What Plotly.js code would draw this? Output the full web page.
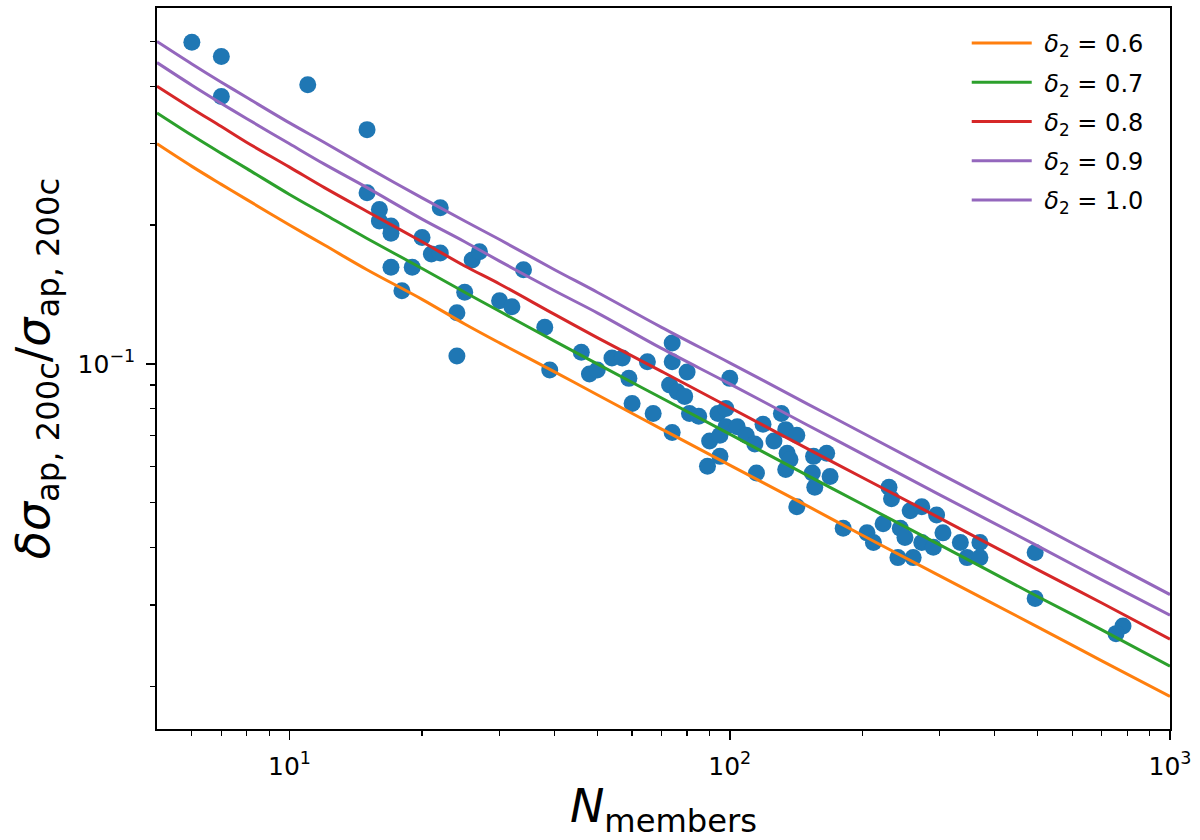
<!DOCTYPE html>
<html>
<head>
<meta charset="utf-8">
<script src="https://cdn.plot.ly/plotly-3.0.1.min.js"></script>
<style>html,body{margin:0;padding:0;background:#fff;}#chart{width:1200px;height:840px;}</style>
</head>
<body>
<div id="chart"></div>
<script>
// Cluster data: number of members and fractional error of aperture velocity dispersion
var nMembers = [6,7,7,11,15,15,16,16,17,17,20,21,22,22,17,19,18,25,24,24,26,27,34,30,32,38,39,46,48,50,
  54,57,59,65,74,74,73,76,60,67,74,80,79,100,81,85,94,98,90,95,98,104,109,114,89,95,115,119,126,131,
  134,142,135,137,134,155,166,154,169,156,142,181,230,233,257,273,295,223,244,250,305,205,212,273,290,241,261,334,370,346,
  370,494,494,782,754];
var fracErr = [0.498,0.464,0.380,0.403,0.322,0.235,0.216,0.204,0.199,0.192,0.188,0.173,0.174,0.218,0.162,0.162,0.144,0.143,0.129,0.104,
  0.168,0.175,0.160,0.137,0.133,0.120,0.097,0.106,0.095,0.097,0.103,0.103,0.093,0.101,0.111,0.101,0.090,0.087,0.082,0.078,
  0.071,0.096,0.085,0.093,0.078,0.077,0.078,0.080,0.068,0.070,0.073,0.073,0.070,0.067,0.060,0.063,0.058,0.074,0.068,0.078,
  0.072,0.070,0.064,0.062,0.059,0.063,0.064,0.058,0.057,0.054,0.049,0.044,0.054,0.051,0.048,0.049,0.047,0.045,0.044,0.042,
  0.043,0.043,0.041,0.041,0.040,0.038,0.038,0.041,0.041,0.038,0.038,0.039,0.031,0.027,0.026];

// Model curves
var nModel = [5,6,7,8,10,12,15,20,25,30,40,50,70,100,150,200,300,500,700,1000];
var delta2Labels = ['0.6','0.7','0.8','0.9','1.0'];
var curve06 = [0.300,0.268,0.245,0.227,0.200,0.181,0.160,0.138,0.122,0.111,0.0961,0.0857,0.0722,0.0603,0.0492,0.0425,0.0347,0.0269,0.0227,0.0190];
var curve07 = [0.350,0.313,0.286,0.265,0.233,0.211,0.187,0.161,0.143,0.130,0.112,0.100,0.0843,0.0704,0.0573,0.0496,0.0405,0.0313,0.0265,0.0221];
var curve08 = [0.400,0.358,0.327,0.302,0.267,0.241,0.214,0.184,0.163,0.149,0.128,0.114,0.0963,0.0804,0.0655,0.0567,0.0463,0.0358,0.0303,0.0253];
var curve09 = [0.450,0.402,0.367,0.340,0.300,0.271,0.241,0.206,0.184,0.167,0.144,0.129,0.108,0.0905,0.0737,0.0638,0.0520,0.0403,0.0340,0.0285];
var curve10 = [0.500,0.447,0.408,0.378,0.333,0.302,0.267,0.229,0.204,0.186,0.160,0.143,0.120,0.1005,0.0819,0.0709,0.0578,0.0448,0.0378,0.0316];
var curves = [curve06, curve07, curve08, curve09, curve10];
var curveColors = ['#ff7f0e','#2ca02c','#d62728','#9467bd','#9467bd'];

var xTickVals = [10,100,1000];
var xTickText = ['10<sup>1</sup>','10<sup>2</sup>','10<sup>3</sup>'];
var xMinor = [6,7,8,9,20,30,40,50,60,70,80,90,200,300,400,500,600,700,800,900];
var yTickVals = [0.1];
var yTickText = ['10<sup>\u22121</sup>'];
var yMinor = [0.02,0.03,0.04,0.05,0.06,0.07,0.08,0.09,0.2,0.3,0.4,0.5];

var traces = [{
  x: nMembers, y: fracErr, type: 'scatter', mode: 'markers', showlegend: false,
  marker: {color: '#1f77b4', size: 17, line: {width: 0}}, hoverinfo: 'x+y'
}];
curves.forEach(function(c, i){
  traces.push({
    x: nModel, y: c, type: 'scatter', mode: 'lines',
    name: '\u00a0<i>δ</i><sub>2</sub> = ' + delta2Labels[i],
    legendgroup: 'g' + i,
    line: {color: curveColors[i], width: 3, shape: 'spline'}
  });
});

var font = 'DejaVu Sans, Verdana, sans-serif';
var tickFont = {family: font, size: 25, color: '#000'};
var layout = {
  width: 1200, height: 840,
  margin: {l: 157, r: 30, t: 8, b: 111},
  paper_bgcolor: '#fff', plot_bgcolor: '#fff',
  font: {family: font, color: '#000', size: 25},
  showlegend: true,
  legend: {
    x: 0.979, xanchor: 'right', y: 0.982, yanchor: 'top',
    bgcolor: 'rgba(255,255,255,0.8)', borderwidth: 0,
    font: {family: font, size: 24, color: '#000'},
    itemwidth: 60, traceorder: 'grouped', tracegroupgap: 5
  },
  xaxis: {
    type: 'log', range: [Math.log10(5), 3],
    tickmode: 'array', tickvals: xTickVals, ticktext: xTickText,
    ticks: 'outside', ticklen: 9, tickwidth: 1.6, tickcolor: '#000',
    ticklabelstandoff: 5,
    minor: {tickmode: 'array', tickvals: xMinor, ticks: 'outside', ticklen: 5, tickwidth: 1.2, tickcolor: '#000', showgrid: false},
    showgrid: false, zeroline: false,
    showline: true, mirror: true, linecolor: '#000', linewidth: 1.8,
    tickfont: tickFont,
    title: {text: '<i>N</i><sub>members</sub>\u00a0', font: {family: font, size: 46}, standoff: 4}
  },
  yaxis: {
    type: 'log', range: [Math.log10(0.01615), Math.log10(0.591)],
    tickmode: 'array', tickvals: yTickVals, ticktext: yTickText,
    ticks: 'outside', ticklen: 9, tickwidth: 1.6, tickcolor: '#000',
    ticklabelstandoff: 6,
    minor: {tickmode: 'array', tickvals: yMinor, ticks: 'outside', ticklen: 5, tickwidth: 1.2, tickcolor: '#000', showgrid: false},
    showgrid: false, zeroline: false,
    showline: true, mirror: true, linecolor: '#000', linewidth: 1.8,
    tickfont: tickFont,
    title: {text: '<i>δσ</i><sub>ap, 200c</sub>/<i>σ</i><sub>ap, 200c</sub>', font: {family: font, size: 46}, standoff: 13}
  }
};

Plotly.newPlot('chart', traces, layout, {displayModeBar: false, staticPlot: true});
</script>
</body>
</html>
